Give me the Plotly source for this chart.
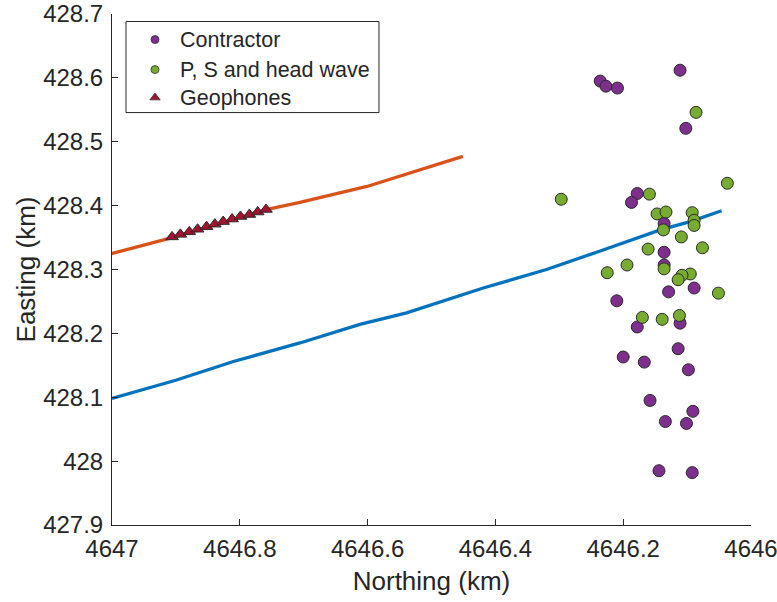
import plotly.graph_objects as go

# Contractor events (Northing km, Easting km)
contractor_n = [4646.111, 4646.236, 4646.227, 4646.209, 4646.102, 4646.178, 4646.187,
                4646.136, 4646.136, 4646.136, 4646.089, 4646.129, 4646.210, 4646.178,
                4646.111, 4646.114, 4646.200, 4646.167, 4646.098, 4646.158, 4646.091,
                4646.134, 4646.101, 4646.144, 4646.092]
contractor_e = [428.612, 428.595, 428.587, 428.584, 428.521, 428.419, 428.405,
                428.372, 428.327, 428.307, 428.271, 428.265, 428.251, 428.210,
                428.216, 428.176, 428.163, 428.155, 428.143, 428.095, 428.078,
                428.062, 428.059, 427.985, 427.982]

# P, S and head wave events
psh_n = [4646.086, 4646.037, 4646.297, 4646.159, 4646.147, 4646.133, 4646.092,
         4646.089, 4646.089, 4646.137, 4646.109, 4646.161, 4646.076, 4646.194,
         4646.225, 4646.136, 4646.095, 4646.108, 4646.114, 4646.051, 4646.170,
         4646.139, 4646.112]
psh_e = [428.546, 428.435, 428.410, 428.418, 428.387, 428.390, 428.389,
         428.377, 428.369, 428.362, 428.351, 428.332, 428.334, 428.307,
         428.295, 428.301, 428.293, 428.291, 428.284, 428.263, 428.225,
         428.222, 428.228]

# Geophones
geo_n = [4646.906, 4646.893, 4646.879, 4646.866, 4646.852, 4646.839,
         4646.826, 4646.812, 4646.799, 4646.785, 4646.772, 4646.759]
geo_e = [428.351, 428.355, 428.359, 428.363, 428.367, 428.371,
         428.375, 428.379, 428.383, 428.386, 428.390, 428.394]

# Well trajectories
blue_n = [4647.000, 4646.899, 4646.810, 4646.706, 4646.612, 4646.539,
          4646.419, 4646.320, 4646.236, 4646.142, 4646.095, 4646.046]
blue_e = [428.098, 428.127, 428.156, 428.185, 428.214, 428.232,
          428.271, 428.300, 428.329, 428.362, 428.375, 428.392]
orange_n = [4647.019, 4646.906, 4646.757, 4646.706, 4646.601, 4646.518, 4646.451]
orange_e = [428.320, 428.350, 428.394, 428.405, 428.430, 428.456, 428.477]

x_ticks = [4647, 4646.8, 4646.6, 4646.4, 4646.2, 4646]
x_labels = ["4647", "4646.8", "4646.6", "4646.4", "4646.2", "4646"]
y_ticks = [427.9, 428.0, 428.1, 428.2, 428.3, 428.4, 428.5, 428.6, 428.7]
y_labels = ["427.9", "428", "428.1", "428.2", "428.3", "428.4", "428.5", "428.6", "428.7"]

legend_names = ["Contractor", "P, S and head wave", "Geophones"]
legend_colors = ["#7E2F8E", "#77AC30", "#A2142F"]
legend_symbols = ["circle", "circle", "triangle-up"]

FONT = "Liberation Sans, Arial, sans-serif"
TXT = "#262626"
EDGE = "#2a2a2a"

fig = go.Figure()
fig.add_trace(go.Scatter(x=blue_n, y=blue_e, mode="lines",
                         line=dict(color="#0072BD", width=3.3), showlegend=False, hoverinfo="skip"))
fig.add_trace(go.Scatter(x=orange_n, y=orange_e, mode="lines",
                         line=dict(color="#D95319", width=3.3), showlegend=False, hoverinfo="skip"))
fig.add_trace(go.Scatter(x=contractor_n, y=contractor_e, mode="markers", name=legend_names[0],
                         showlegend=False,
                         marker=dict(color=legend_colors[0], size=12, line=dict(color=EDGE, width=1))))
fig.add_trace(go.Scatter(x=psh_n, y=psh_e, mode="markers", name=legend_names[1], showlegend=False,
                         marker=dict(color=legend_colors[1], size=12, line=dict(color=EDGE, width=1))))
fig.add_trace(go.Scatter(x=geo_n, y=geo_e, mode="markers", name=legend_names[2], showlegend=False,
                         marker=dict(symbol="triangle-up", color=legend_colors[2], size=11,
                                     line=dict(color=EDGE, width=1))))

# Legend drawn manually (box, symbols, labels) in plot-area fractions
leg_x0, leg_x1, leg_y0, leg_y1 = 0.0219, 0.4178, 0.8071, 0.9853
sym_x = 0.0673
txt_x = 0.1033
row_y = [0.9500, 0.8913, 0.8364]

fig.add_shape(type="rect", xref="paper", yref="paper", x0=leg_x0, x1=leg_x1, y0=leg_y0, y1=leg_y1,
              line=dict(color=TXT, width=1), fillcolor="white", layer="below")
fig.add_trace(go.Scatter(x=[sym_x] * 3, y=row_y, xaxis="x2", yaxis="y2", mode="markers",
                         showlegend=False, hoverinfo="skip", opacity=1,
                         marker=dict(symbol=legend_symbols, color=legend_colors, size=[8, 8, 9],
                                     opacity=1, line=dict(color="#333333", width=0.8))))
for name, yy in zip(legend_names, row_y):
    fig.add_annotation(x=txt_x, y=yy, xref="paper", yref="paper", text=name, showarrow=False,
                       xanchor="left", yanchor="middle",
                       font=dict(family=FONT, size=21.5, color=TXT))

axis_common = dict(showline=True, linecolor=TXT, linewidth=1, mirror=False,
                   ticks="inside", ticklen=6, tickcolor=TXT, tickwidth=1,
                   showgrid=False, zeroline=False, automargin=False,
                   ticklabeloverflow="allow",
                   tickfont=dict(family=FONT, size=24, color=TXT))

fig.update_layout(
    width=777, height=602,
    margin=dict(l=112, r=26, t=14, b=77, autoexpand=False),
    paper_bgcolor="white", plot_bgcolor="white",
    font=dict(family=FONT, color=TXT),
    showlegend=False,
    xaxis=dict(range=[4647, 4646], tickvals=x_ticks, ticktext=x_labels, ticklabelstandoff=2,
               title=dict(text="Northing (km)", font=dict(family=FONT, size=26, color=TXT), standoff=11),
               **axis_common),
    yaxis=dict(range=[427.9, 428.7], tickvals=y_ticks, ticktext=y_labels, ticklabelstandoff=3,
               title=dict(text="Easting (km)", font=dict(family=FONT, size=26, color=TXT), standoff=0),
               **axis_common),
    xaxis2=dict(overlaying="x", range=[0, 1], visible=False, fixedrange=True),
    yaxis2=dict(overlaying="y", range=[0, 1], visible=False, fixedrange=True),
)

fig.write_html("out.html", config={"displayModeBar": False},
               post_script="document.body.style.margin='0px';document.body.style.overflow='hidden';")
